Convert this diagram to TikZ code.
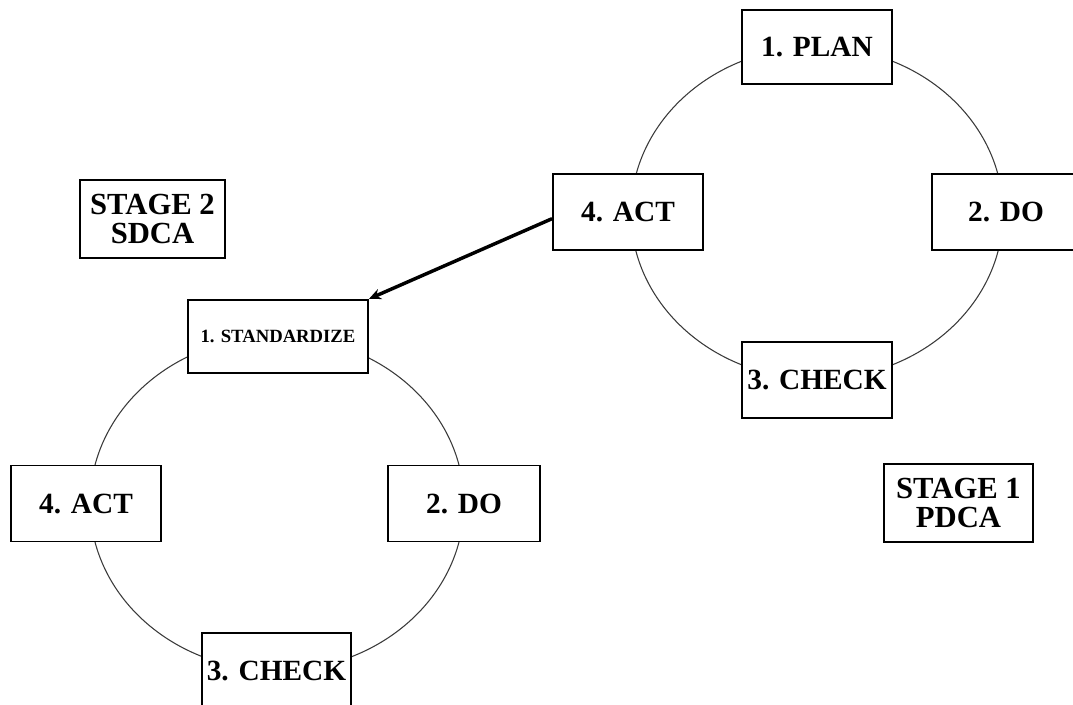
\documentclass[tikz,border=0pt]{standalone}
\usepackage{fontspec}
\setmainfont{Liberation Serif}
\usetikzlibrary{arrows.meta}
\definecolor{cycleink}{HTML}{000000}
\definecolor{cyclering}{HTML}{3A3A3A}

\begin{document}
\begin{tikzpicture}[
  x=0.75pt,
  y=-0.75pt,
  every node/.style={font=\fontsize{22}{20}\selectfont\bfseries, cycleink},
  stepbox/.style={draw=cycleink, fill=white, line width=1.4pt,
    minimum width=112.5pt, minimum height=57pt, inner sep=0pt},
  smallbox/.style={stepbox, minimum width=135pt, minimum height=55pt,
    font=\fontsize{14}{16}\selectfont\bfseries},
  stagebox/.style={stepbox, minimum height=58.5pt, align=center,
    font=\fontsize{23}{22}\selectfont\bfseries},
  ring/.style={cyclering, line width=0.8pt},
  link/.style={cycleink, line width=2.6pt, -{Stealth[length=9pt, width=8pt]}}
]
  % ---- page frame ------------------------------------------------------
  \useasboundingbox (0,0) rectangle (1073,704);

  % ---- the two rings, under the boxes ---------------------------------
  \draw[ring] (817,213) ellipse [x radius=186, y radius=166];
  \draw[ring] (277,503.5) ellipse [x radius=187, y radius=167];

  % ---- stage 1: PDCA ----------------------------------------------------
  \node[stepbox, minimum height=55.5pt] (plan)   at (817,47)   {1. PLAN};
  \node[stepbox, minimum width=111pt]   (pdo)    at (1006,212) {2. DO};
  \node[stepbox]                        (pcheck) at (817,380)  {3. CHECK};
  \node[stepbox]                        (pact)   at (628,212)  {4. ACT};
  \node[stagebox, minimum width=112pt]  (stage1) at (958.5,503)
    {STAGE 1\\PDCA};

  % ---- stage 2: SDCA ----------------------------------------------------
  \node[smallbox]                       (std)    at (278,336.5) {1. STANDARDIZE};
  \node[stepbox, minimum width=114pt]   (sdo)    at (464,503.5) {2. DO};
  \node[stepbox, minimum width=112pt]   (scheck) at (276.5,671) {3. CHECK};
  \node[stepbox]                        (sact)   at (86,503.5)  {4. ACT};
  \node[stagebox, minimum width=109pt]  (stage2) at (152.5,219)
    {STAGE 2\\SDCA};

  % ---- hand-over from PDCA to SDCA --------------------------------------
  \draw[link] ([yshift=-5pt]pact.west) -- (std.north east);

\end{tikzpicture}
\end{document}
